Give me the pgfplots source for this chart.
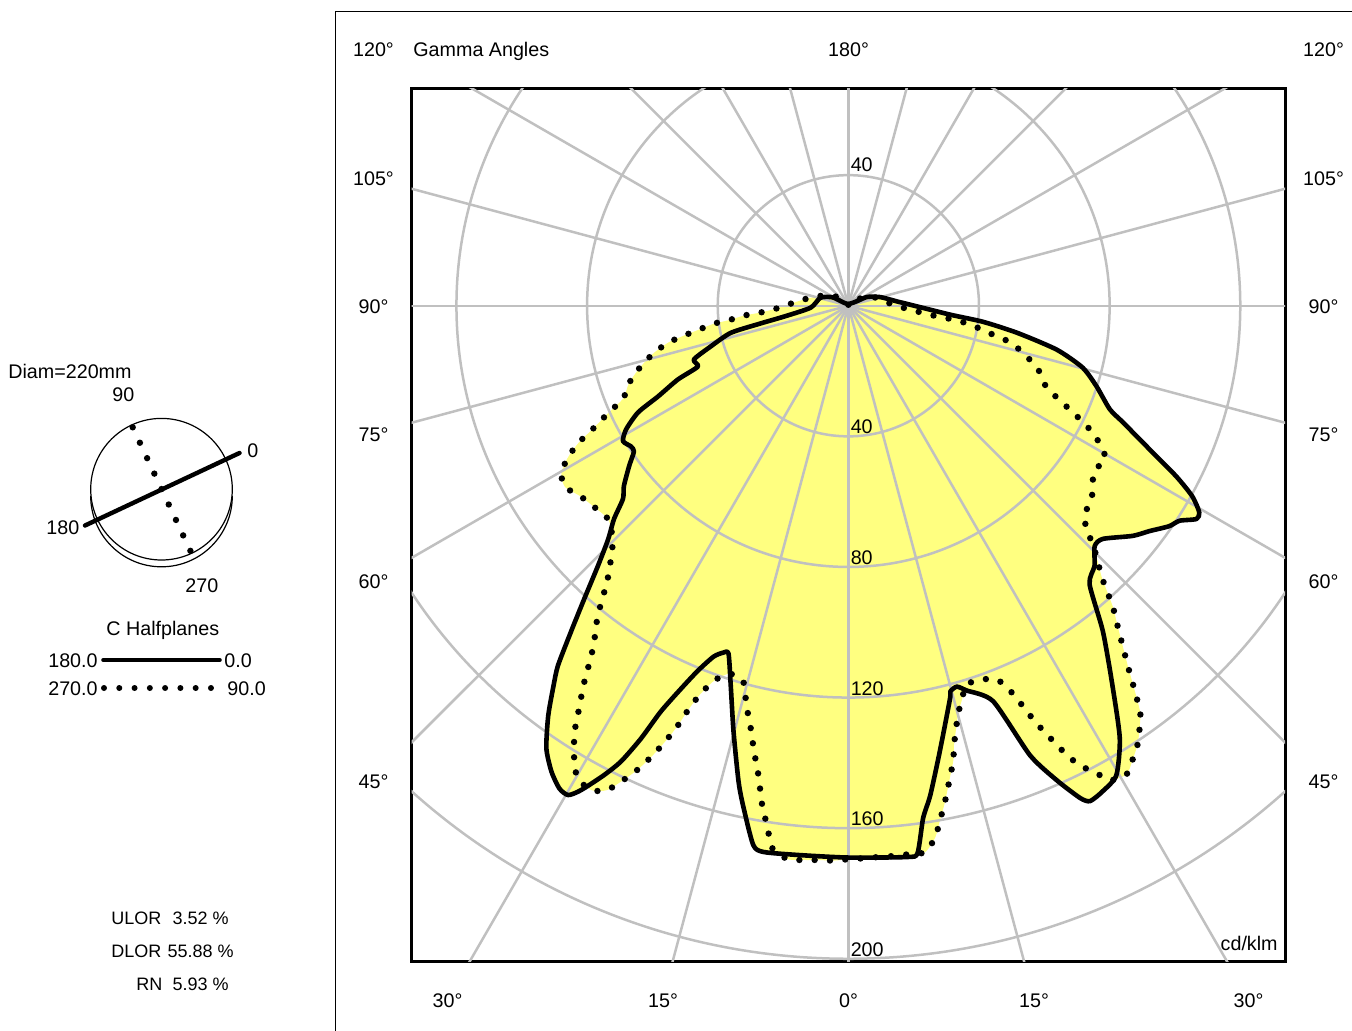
\documentclass[border=0pt]{standalone}
\usepackage{fontspec}
\setmainfont{Liberation Sans}
\usepackage{pgfplots}
\usepackage{pgfplotstable}
\pgfplotsset{compat=1.18}

\definecolor{lumyellow}{RGB}{255,255,128}
\definecolor{gridgray}{RGB}{192,192,192}

% C0 (gamma > 0) and C180 (gamma < 0), cd/klm
\pgfplotstableread{
g I
-180 0.5
-125 1.5
-118 5.5
-106 8.9
-87 11.6
-80.4 20.1
-78.5 28
-77 37
-73.5 44
-70.8 50.1
-68 49.7
-66.6 56.9
-64.5 64.6
-63.1 72.2
-60.9 77.9
-59 80.5
-57.1 79.3
-55.8 79.4
-53.8 83.2
-51.2 88.2
-49.4 90.9
-47.7 97
-45.8 102.6
-43.9 110.6
-42 120.9
-40.4 131
-38.9 141.6
-37.8 147.3
-36.2 155.6
-34.3 164.1
-32.5 169.2
-30.9 172.3
-29.8 172.7
-28.9 169.5
-27.5 162.1
-26.5 155.9
-25.6 147
-24.8 136.9
-23.6 128
-22.4 120.9
-21 115.1
-19.8 112.9
-19 112.7
-17.2 121.8
-15.1 135
-13 149.5
-11.9 156.4
-10 167.7
-8.8 169.3
-5 168.9
0 169
6.1 169.8
7.2 169
8.3 158.6
9.5 152
11.6 139.3
14.5 124.3
14.8 122.2
15.9 121.3
17.1 123.3
20.1 129
22 148.5
23.7 158.7
25.2 166.6
26 168.8
27.6 167.9
29.7 165.6
32.1 156.4
34.8 141.7
38 126.6
40.9 112.8
43.4 109.7
45.7 105.4
47.5 105.7
51 112
53.2 115.2
55.5 119.2
57 120.9
58.5 125
59.5 124.7
61 120.4
62.5 113.2
64.5 102.2
67 91.3
68.4 86.1
72 79.9
75.2 74.2
78.1 65.2
80.9 52.3
83.2 41.5
85 31.3
91 18.9
95 15
105 10.2
115 6.4
118 3
125 1.5
180 0.5
}\solidtab

% C90 (gamma > 0) and C270 (gamma < 0), cd/klm
\pgfplotstableread{
g I
-180 0.3
-140 1.5
-129.3 4.3
-110.3 8.8
-99.5 13
-92 17.7
-87.6 22.3
-85.5 27.3
-84.6 32.2
-83.1 36.9
-82.4 41.6
-80.9 46.4
-79.7 51.2
-78.4 56.4
-76.2 61.6
-73.3 66.9
-70.5 71.3
-67.6 74.6
-65.9 80.6
-64.3 86.7
-63.1 92.5
-61.6 97.6
-59.7 101.8
-57.4 103
-54.6 100.7
-51.9 99.4
-48.4 98.4
-45.7 101
-44 104.1
-42.5 108.1
-41.2 112.1
-40.2 116.3
-39.2 120.9
-38.2 125
-37.1 129
-36.2 133.5
-35.5 137.9
-34.8 142.4
-34 146.9
-33.3 151.3
-32.6 155.9
-31.7 159.7
-30.8 163.9
-29.6 167.1
-27.9 167.9
-26.5 165.8
-25.4 160.9
-24.4 155.9
-23.5 150.1
-22.7 144
-22.1 138.7
-21.6 133
-20.9 127.5
-19.7 122
-17.9 118.4
-15.7 119.3
-14.8 123.5
-14 127.8
-13.1 132.3
-12.4 136.6
-11.7 141
-11 145.3
-10.4 150
-9.9 154.4
-9.3 158.4
-8.6 163.4
-8 167.7
-6.3 170.5
-4.6 170.3
-3.1 170
-1.5 170
0 169.5
1.6 169.3
3.1 169.1
4.8 169.1
6.4 169
8 169
9.3 164.9
10 160.6
10.8 156.1
11.5 151.8
12.2 147.5
13 142.9
13.5 138.5
14.2 134.2
15 129.6
16.1 125.5
17.3 121.5
19.7 121.6
21.7 123.2
22.9 128.6
23.6 134.3
24.2 139.9
25 145.9
25.8 152
26.7 157.6
27.9 161.7
28.8 165.9
30.7 166.9
32.1 163.9
33.4 160.9
34.5 157.4
35.6 153.6
36.3 149.2
37 144.6
37.7 140.2
38.5 135.8
39.4 131.2
40.3 127
41.3 122.7
42.2 117.8
43.1 113.4
44.3 109.3
45.8 104.3
46.7 100.2
48.6 96.5
51.5 95.2
53.8 92.6
56.3 90.7
59.2 91.7
61.3 87.7
63 82.6
64.4 76.9
65.9 70.9
67.8 65.3
71.2 61.6
74.3 56.5
77.2 51
78.5 45.8
80.1 40.9
81.7 36.1
82.7 31.1
83.4 26.4
85.1 21.5
87.9 16.8
94.3 12.2
110.6 7.8
130 3
150 1
180 0.3
}\dottab

% gamma/intensity -> drawing plane
\pgfplotsset{/pgfplots/table/polar/.style={
  x expr={\thisrow{I}*sin(\thisrow{g})},
  y expr={-\thisrow{I}*cos(\thisrow{g})}}}

\begin{document}
\begin{tikzpicture}[every node/.style={font=\fontsize{9.85}{12}\selectfont, inner sep=0pt}]
\path[use as bounding box] (0,0) rectangle (676pt,-515.5pt);

\begin{axis}[
    at={(205.85pt,-480.85pt)}, anchor=south west,
    scale only axis, width=436.65pt, height=436.7pt,
    xmin=-133.7, xmax=133.7, ymin=-200.9, ymax=66.6,
    xtick=\empty, ytick=\empty,
    axis line style={line width=1.5pt},
    clip=true,
]
% filled areas
\addplot[fill=lumyellow, draw=none, smooth, tension=0.4] table[polar] {\solidtab};
\addplot[fill=lumyellow, draw=none, smooth, tension=0.4] table[polar] {\dottab};

% polar grid
\pgfplotsinvokeforeach{40,80,120,160,200}{
  \draw[gridgray, line width=1.25pt] (axis cs:0,0) circle[radius=#1];
}
\pgfplotsinvokeforeach{0,15,...,345}{
  \draw[gridgray, line width=1.25pt] (axis cs:0,0) -- (axis cs:{260*sin(#1)},{-260*cos(#1)});
}

% curves
\addplot[black, line width=3.2pt, line cap=round, dash pattern=on 0pt off 7.65pt, smooth, tension=0.4] table[polar] {\dottab};
\addplot[black, line width=2.3pt, line join=round, smooth, tension=0.4] table[polar] {\solidtab};

% ring values
\node[anchor=base west, xshift=1pt, yshift=2pt] at (axis cs:0,40) {40};
\pgfplotsinvokeforeach{40,80,120,160,200}{
  \node[anchor=base west, xshift=1pt, yshift=1.2pt] at (axis cs:0,-#1) {#1};
}
\node[anchor=base east, xshift=-3.5pt, yshift=5.85pt] at (rel axis cs:1,0) {cd/klm};
\end{axis}

\begin{scope}[x=0.5pt, y=-0.5pt]
% panel rules
\draw[line width=0.5pt] (335,1031) -- (335,11.7) -- (1352,11.7);

% gamma angle labels
\node[anchor=base] at (373.5,57) {120°};
\node[anchor=base west] at (413,57) {Gamma Angles};
\node[anchor=base] at (848.5,57) {180°};
\node[anchor=base] at (1323.5,57) {120°};
\foreach \lab/\yy in {105°/186, 90°/314, 75°/441, 60°/588, 45°/788}{
  \node[anchor=base] at (373.5,\yy) {\lab};
  \node[anchor=base] at (1323.5,\yy) {\lab};
}
\foreach \lab/\xx in {30°/447.5, 15°/663, 0°/848.5, 15°/1034, 30°/1248.5}{
  \node[anchor=base] at (\xx,1007) {\lab};
}

% luminaire sketch
\node[anchor=base west] at (8,379) {Diam=220mm};
\draw[line width=0.6pt] (161.5,489.2) circle[radius=70.8];
\draw[line width=0.6pt] (232.3,496) arc[start angle=0, end angle=180, radius=70.8];
\draw[line width=2.2pt, line cap=round] (85,525.5) -- (239.5,453);
\draw[line width=3.2pt, line cap=round, dash pattern=on 0pt off 8.52pt] (132.7,427.3) -- (190.6,551.3);
\node[anchor=base west] at (112,401) {90};
\node[anchor=base west] at (247,457) {0};
\node[anchor=base west] at (46,534) {180};
\node[anchor=base west] at (185,592) {270};

% C plane legend
\node[anchor=base west] at (106,635) {C Halfplanes};
\node[anchor=base east] at (98,667) {180.0};
\draw[line width=2.3pt, line cap=round] (103.5,660) -- (219.5,660);
\node[anchor=base west] at (224,667) {0.0};
\node[anchor=base east] at (98,695) {270.0};
\draw[line width=3pt, line cap=round, dash pattern=on 0pt off 7.64pt] (104,688) -- (211.3,688);
\node[anchor=base west] at (227,695) {90.0};

% light output ratios
\begin{scope}[every node/.append style={font=\fontsize{9}{11}\selectfont}]
\node[anchor=base west] at (111,924) {ULOR};
\node[anchor=base east] at (229,924) {3.52 \%};
\node[anchor=base west] at (111,957) {DLOR};
\node[anchor=base east] at (234,957) {55.88 \%};
\node[anchor=base west] at (136,990) {RN};
\node[anchor=base east] at (229,990) {5.93 \%};
\end{scope}
\end{scope}
\end{tikzpicture}
\end{document}
